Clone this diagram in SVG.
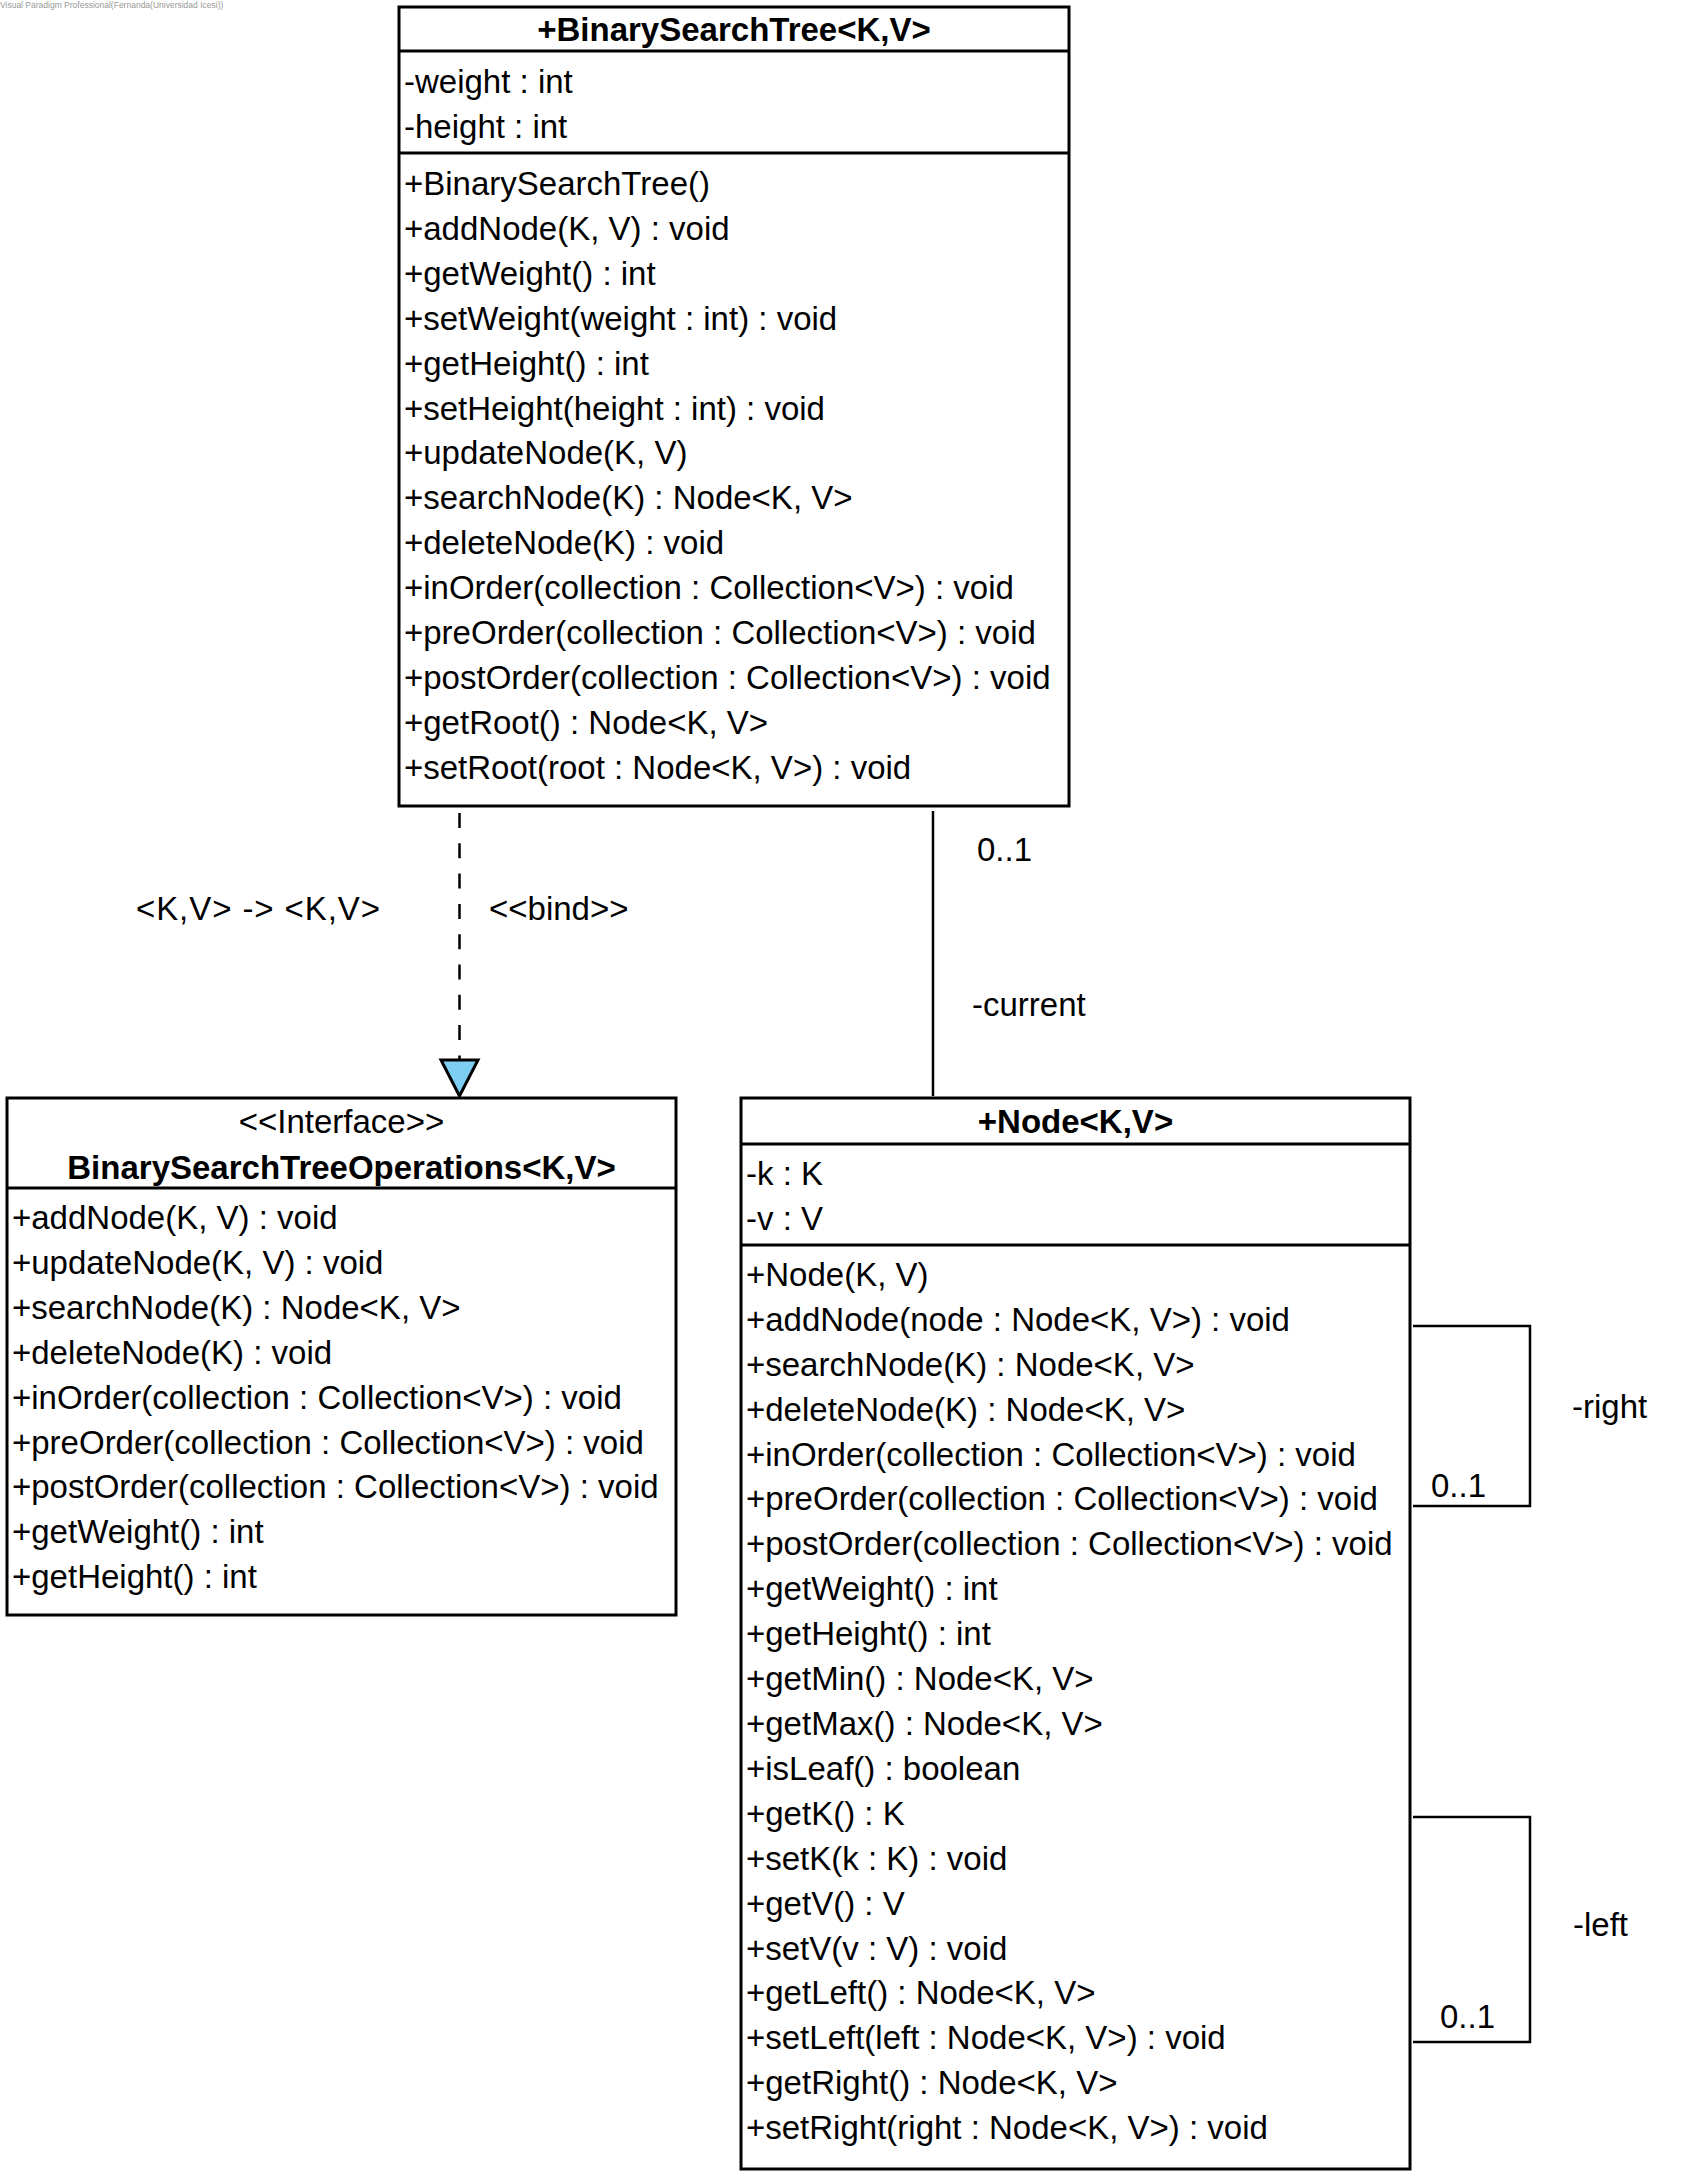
<svg xmlns="http://www.w3.org/2000/svg" width="1695" height="2181" viewBox="0 0 1695 2181">
<style>
  text { font-family: "Liberation Sans", Arial, sans-serif; font-size: 33px; fill: #000; }
  .b { font-weight: bold; }
  .c { text-anchor: middle; }
  .box { fill: #fff; stroke: #000; stroke-width: 3; }
  .div { stroke: #000; stroke-width: 3; }
  .ln { fill: none; stroke: #000; stroke-width: 2.5; }
  .wm { font-size: 8.5px; fill: #999; }
</style>
<rect width="1695" height="2181" fill="#fff"/>
<text class="wm" x="0" y="8">Visual Paradigm Professional(Fernanda(Universidad Icesi))</text>

<g id="connectors">
  <line class="ln" x1="459.5" y1="813" x2="459.5" y2="1060" stroke-dasharray="15 15.3"/>
  <polygon points="441,1060 478,1060 459.5,1096" fill="#7ECEF4" stroke="#000" stroke-width="3" stroke-linejoin="miter"/>
  <text x="136" y="920" textLength="244" lengthAdjust="spacing">&lt;K,V&gt; -&gt; &lt;K,V&gt;</text>
  <text x="489" y="920">&lt;&lt;bind&gt;&gt;</text>
  <line class="ln" x1="933" y1="811" x2="933" y2="1096"/>
  <text x="977" y="861">0..1</text>
  <text x="972" y="1016">-current</text>
  <polyline class="ln" points="1413,1326 1530,1326 1530,1506 1413,1506"/>
  <text x="1572" y="1418">-right</text>
  <text x="1431" y="1497">0..1</text>
  <polyline class="ln" points="1413,1817 1530,1817 1530,2042 1413,2042"/>
  <text x="1573" y="1936">-left</text>
  <text x="1440" y="2028">0..1</text>
</g>

<g id="BinarySearchTree">
  <rect class="box" x="399" y="7" width="670" height="799"/>
  <line class="div" x1="399" y1="51" x2="1069" y2="51"/>
  <line class="div" x1="399" y1="153" x2="1069" y2="153"/>
  <text class="b c" x="734" y="41">+BinarySearchTree&lt;K,V&gt;</text>
  <text x="404" y="93">-weight : int</text>
  <text x="404" y="138">-height : int</text>
  <text x="404" y="195">+BinarySearchTree()</text>
  <text x="404" y="240">+addNode(K, V) : void</text>
  <text x="404" y="285">+getWeight() : int</text>
  <text x="404" y="330">+setWeight(weight : int) : void</text>
  <text x="404" y="375">+getHeight() : int</text>
  <text x="404" y="420">+setHeight(height : int) : void</text>
  <text x="404" y="464">+updateNode(K, V)</text>
  <text x="404" y="509">+searchNode(K) : Node&lt;K, V&gt;</text>
  <text x="404" y="554">+deleteNode(K) : void</text>
  <text x="404" y="599">+inOrder(collection : Collection&lt;V&gt;) : void</text>
  <text x="404" y="644">+preOrder(collection : Collection&lt;V&gt;) : void</text>
  <text x="404" y="689">+postOrder(collection : Collection&lt;V&gt;) : void</text>
  <text x="404" y="734">+getRoot() : Node&lt;K, V&gt;</text>
  <text x="404" y="779">+setRoot(root : Node&lt;K, V&gt;) : void</text>
</g>

<g id="BinarySearchTreeOperations">
  <rect class="box" x="7" y="1098" width="669" height="517"/>
  <line class="div" x1="7" y1="1188" x2="676" y2="1188"/>
  <text class="c" x="341.5" y="1133">&lt;&lt;Interface&gt;&gt;</text>
  <text class="b c" x="341.5" y="1179">BinarySearchTreeOperations&lt;K,V&gt;</text>
  <text x="12" y="1229">+addNode(K, V) : void</text>
  <text x="12" y="1274">+updateNode(K, V) : void</text>
  <text x="12" y="1319">+searchNode(K) : Node&lt;K, V&gt;</text>
  <text x="12" y="1364">+deleteNode(K) : void</text>
  <text x="12" y="1409">+inOrder(collection : Collection&lt;V&gt;) : void</text>
  <text x="12" y="1454">+preOrder(collection : Collection&lt;V&gt;) : void</text>
  <text x="12" y="1498">+postOrder(collection : Collection&lt;V&gt;) : void</text>
  <text x="12" y="1543">+getWeight() : int</text>
  <text x="12" y="1588">+getHeight() : int</text>
</g>

<g id="Node">
  <rect class="box" x="741" y="1098" width="669" height="1071"/>
  <line class="div" x1="741" y1="1144" x2="1410" y2="1144"/>
  <line class="div" x1="741" y1="1245" x2="1410" y2="1245"/>
  <text class="b c" x="1075.5" y="1133">+Node&lt;K,V&gt;</text>
  <text x="746" y="1185">-k : K</text>
  <text x="746" y="1230">-v : V</text>
  <text x="746" y="1286">+Node(K, V)</text>
  <text x="746" y="1331">+addNode(node : Node&lt;K, V&gt;) : void</text>
  <text x="746" y="1376">+searchNode(K) : Node&lt;K, V&gt;</text>
  <text x="746" y="1421">+deleteNode(K) : Node&lt;K, V&gt;</text>
  <text x="746" y="1466">+inOrder(collection : Collection&lt;V&gt;) : void</text>
  <text x="746" y="1510">+preOrder(collection : Collection&lt;V&gt;) : void</text>
  <text x="746" y="1555">+postOrder(collection : Collection&lt;V&gt;) : void</text>
  <text x="746" y="1600">+getWeight() : int</text>
  <text x="746" y="1645">+getHeight() : int</text>
  <text x="746" y="1690">+getMin() : Node&lt;K, V&gt;</text>
  <text x="746" y="1735">+getMax() : Node&lt;K, V&gt;</text>
  <text x="746" y="1780">+isLeaf() : boolean</text>
  <text x="746" y="1825">+getK() : K</text>
  <text x="746" y="1870">+setK(k : K) : void</text>
  <text x="746" y="1915">+getV() : V</text>
  <text x="746" y="1960">+setV(v : V) : void</text>
  <text x="746" y="2004">+getLeft() : Node&lt;K, V&gt;</text>
  <text x="746" y="2049">+setLeft(left : Node&lt;K, V&gt;) : void</text>
  <text x="746" y="2094">+getRight() : Node&lt;K, V&gt;</text>
  <text x="746" y="2139">+setRight(right : Node&lt;K, V&gt;) : void</text>
</g>
</svg>
